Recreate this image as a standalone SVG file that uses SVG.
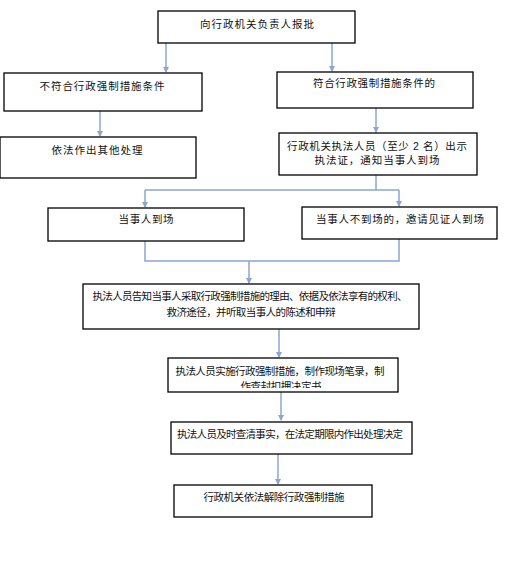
<svg xmlns="http://www.w3.org/2000/svg" width="526" height="571" viewBox="0 0 526 571">
<style>
.box{fill:#fff;stroke:#000;stroke-width:1.3}
.t{font-family:"Liberation Sans","Noto Sans CJK SC",sans-serif;font-size:10.5px;fill:#111;text-anchor:middle}
.c{fill:none;stroke:#8BA7D1;stroke-width:1.5}
</style>
<defs>
<marker id="ah" markerWidth="6" markerHeight="6" refX="5" refY="3" orient="auto" markerUnits="userSpaceOnUse">
<path d="M0,0 L6,3 L0,6 Z" fill="#8BA7D1"/>
</marker>
<clipPath id="clip9"><rect x="168" y="358" width="230" height="30"/></clipPath>
</defs>
<rect width="526" height="571" fill="#fff"/>
<g id="connectors">
<path class="c" d="M166,43 V72" marker-end="url(#ah)"/>
<path class="c" d="M332,43 V71" marker-end="url(#ah)"/>
<path class="c" d="M100,111 V136" marker-end="url(#ah)"/>
<path class="c" d="M376,108 V132" marker-end="url(#ah)"/>
<path class="c" d="M376,175 V190 M145,190 H399"/>
<path class="c" d="M145,190 V207" marker-end="url(#ah)"/>
<path class="c" d="M399,190 V206" marker-end="url(#ah)"/>
<path class="c" d="M145,241 V261 H399 V239"/>
<path class="c" d="M249,261 V283" marker-end="url(#ah)"/>
<path class="c" d="M279,329 V357" marker-end="url(#ah)"/>
<path class="c" d="M281,392 V420" marker-end="url(#ah)"/>
<path class="c" d="M278,454 V484" marker-end="url(#ah)"/>
</g>
<g id="n1"><rect class="box" x="158" y="11" width="197" height="32"/><text class="t" x="257" y="28" textLength="114">向行政机关负责人报批</text></g>
<g id="n2"><rect class="box" x="4" y="73" width="198" height="38"/><text class="t" x="102" y="90" textLength="125">不符合行政强制措施条件</text></g>
<g id="n3"><rect class="box" x="0" y="137" width="196" height="41"/><text class="t" x="97" y="154" textLength="91">依法作出其他处理</text></g>
<g id="n4"><rect class="box" x="277" y="72" width="196" height="36"/><text class="t" x="374" y="87" textLength="122">符合行政强制措施条件的</text></g>
<g id="n5"><rect class="box" x="279" y="133" width="198" height="42"/><text class="t" x="377" y="150" textLength="180">行政机关执法人员（至少 2 名）出示</text><text class="t" x="377" y="164" textLength="125">执法证，通知当事人到场</text></g>
<g id="n6"><rect class="box" x="48" y="208" width="196" height="33"/><text class="t" x="146" y="223" textLength="55">当事人到场</text></g>
<g id="n7"><rect class="box" x="302" y="207" width="195" height="32"/><text class="t" x="400" y="223" textLength="168">当事人不到场的，邀请见证人到场</text></g>
<g id="n8"><rect class="box" x="83" y="284" width="336" height="45"/><text class="t" x="250" y="300" textLength="315">执法人员告知当事人采取行政强制措施的理由、依据及依法享有的权利、</text><text class="t" x="251" y="316" textLength="169">救济途径，并听取当事人的陈述和申辩</text></g>
<g id="n9"><rect class="box" x="168" y="358" width="230" height="34"/><text class="t" x="280" y="375" textLength="209">执法人员实施行政强制措施，制作现场笔录，制</text><text class="t" x="281" y="390" textLength="81" clip-path="url(#clip9)">作查封扣押决定书</text></g>
<g id="n10"><rect class="box" x="171" y="422" width="241" height="32"/><text class="t" x="290" y="438" textLength="226">执法人员及时查清事实，在法定期限内作出处理决定</text></g>
<g id="n11"><rect class="box" x="174" y="485" width="198" height="32"/><text class="t" x="274" y="501" textLength="141">行政机关依法解除行政强制措施</text></g>
</svg>
